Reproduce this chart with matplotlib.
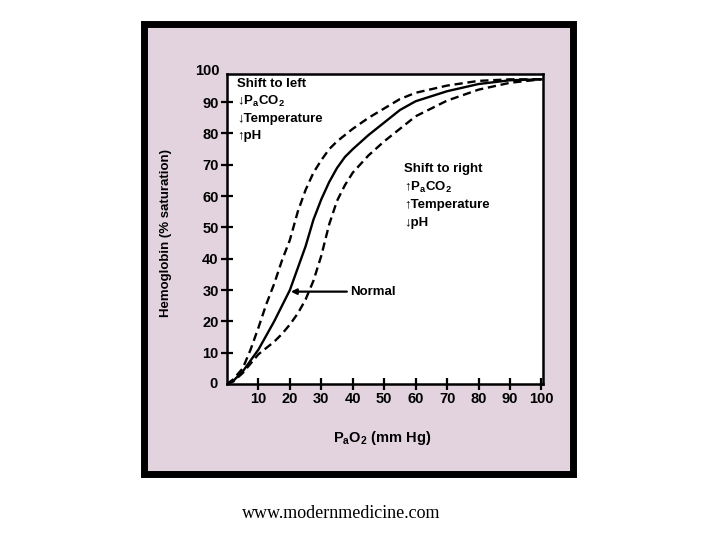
import matplotlib
matplotlib.use("Agg")
import matplotlib.pyplot as plt
from matplotlib.patches import Rectangle

plt.rcParams['font.family'] = ['Liberation Sans Narrow', 'Liberation Sans', 'DejaVu Sans']
plt.rcParams['font.weight'] = 'bold'
plt.rcParams['mathtext.default'] = 'regular'

# PaO2 (mm Hg) vs % saturation
pao2 = [0, 2, 5, 7.5, 10, 12.5, 15, 17.5, 20, 22.5, 25, 27.5, 30, 32.5, 35, 37.5, 40,
        45, 50, 55, 60, 70, 80, 90, 100]
sat_left = [0, 1.5, 5, 11, 18, 25.5, 32, 39.5, 46, 55, 62, 67.5, 71.5, 75, 77.5, 79.5, 81.5,
            85, 88, 91, 93, 95.3, 96.8, 97.3, 97.3]
sat_normal = [0, 1, 4, 7.5, 11, 15.5, 20, 25, 30, 37, 44, 52.5, 59, 64.5, 69, 72.5, 75,
              79.5, 83.5, 87.5, 90.3, 93.5, 95.8, 97, 97.3]
sat_right = [0, 0.8, 3.5, 6.5, 9.5, 11.5, 13.5, 16, 19, 22.5, 27, 33, 41, 51, 58.5, 63.5, 67.5,
             73, 77.5, 81.5, 85.5, 90.5, 94, 96.2, 97.3]

xticks = [10, 20, 30, 40, 50, 60, 70, 80, 90, 100]
yticks = [10, 20, 30, 40, 50, 60, 70, 80, 90]

left_notes = ["Shift to left", "\u2193P$_a$CO$_2$", "\u2193Temperature", "\u2191pH"]
right_notes = ["Shift to right", "\u2191P$_a$CO$_2$", "\u2191Temperature", "\u2193pH"]

fig = plt.figure(figsize=(7.2, 5.4), dpi=100)
fig.patch.set_facecolor('white')

# pink framed panel
fig.patches.append(Rectangle((143.5 / 720, 1 - 474 / 540), (573.5 - 143.5) / 720, (474 - 23.5) / 540,
                             transform=fig.transFigure, facecolor='#e2d3de', edgecolor='black',
                             linewidth=5, zorder=-10))

ax = fig.add_axes([227 / 720, 1 - 384 / 540, (543 - 227) / 720, (384 - 74) / 540])
ax.set_facecolor('white')

dash = (0, (3.5, 2))
ax.plot(pao2, sat_left, color='black', lw=1.7, ls=dash)
ax.plot(pao2, sat_normal, color='black', lw=1.7)
ax.plot(pao2, sat_right, color='black', lw=1.7, ls=dash)

ax.set_xlim(0, 100.5)
ax.set_ylim(0, 99)
ax.set_xticks(xticks)
ax.set_yticks(yticks)
ax.tick_params(direction='inout', length=8, width=1.6, labelsize=10.5, pad=2)
for s in ax.spines.values():
    s.set_linewidth(1.8)

ax.text(-3, 0, "0", ha='right', va='center', fontsize=10.5, clip_on=False)
ax.text(-2.5, 100, "100", ha='right', va='center', fontsize=10.5, clip_on=False)

for i, t in enumerate(left_notes):
    ax.text(3.2, [95.8, 90.2, 84.7, 79.2][i], t, fontsize=9.5, va='center')
for i, t in enumerate(right_notes):
    ax.text(56.4, [68.7, 62.9, 57.2, 51.4][i], t, fontsize=9.5, va='center')

ax.annotate("Normal", xy=(20.3, 29.5), xytext=(39.0, 29.5), fontsize=9.5, va='center',
            arrowprops=dict(arrowstyle='-|>', color='black', lw=1.6, mutation_scale=8,
                            shrinkA=0, shrinkB=0))

fig.text(166 / 720, 1 - 233 / 540, "Hemoglobin (% saturation)", rotation=90,
         ha='center', va='center', fontsize=9.5)
fig.text(382 / 720, 1 - 438 / 540, "P$_a$O$_2$ (mm Hg)", ha='center', va='center', fontsize=10.5)

fig.text(341 / 720, 1 - 514 / 540, "www.modernmedicine.com", ha='center', va='center',
         fontsize=13, family='Liberation Serif', weight='normal')

fig.savefig("out.png", dpi=100)
